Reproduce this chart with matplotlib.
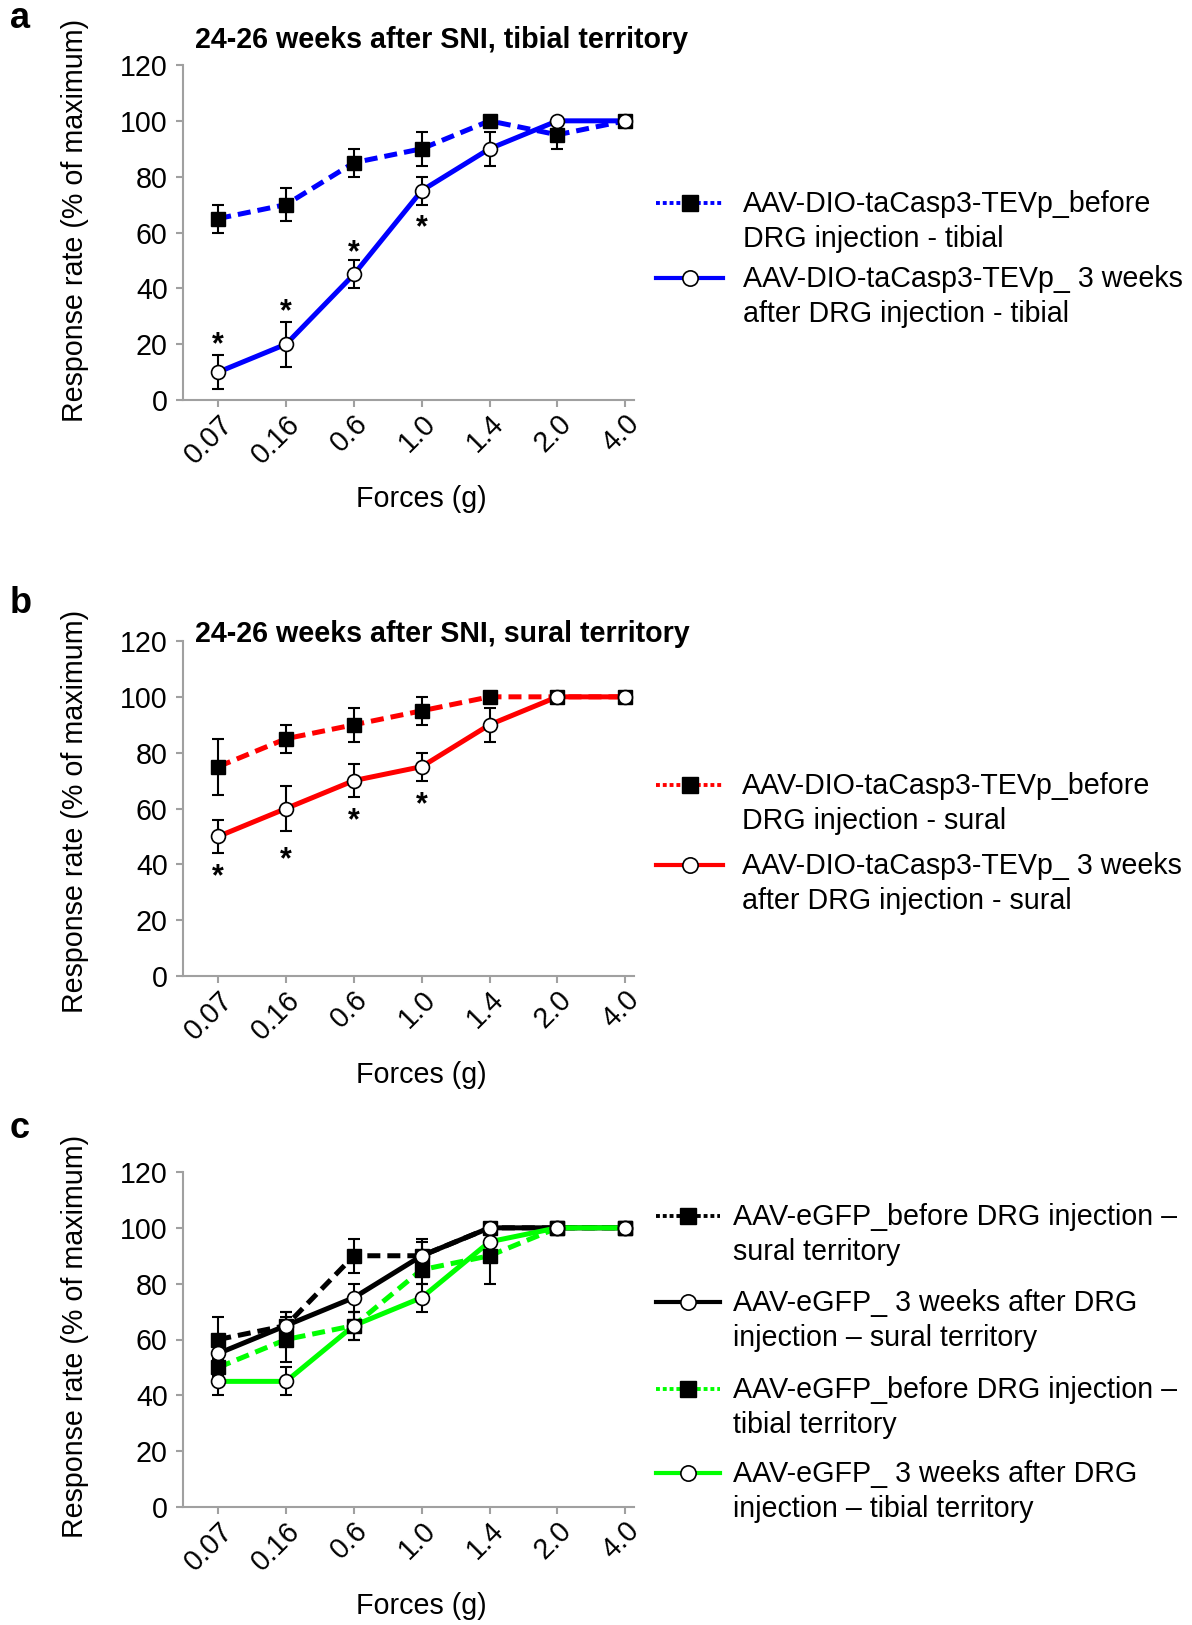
import matplotlib.pyplot as plt
import numpy as np
from matplotlib.lines import Line2D

plt.rcParams['font.family'] = ['Liberation Sans', 'DejaVu Sans']
FS = 20.6
plt.rcParams['font.size'] = FS

# data
forces = ['0.07', '0.16', '0.6', '1.0', '1.4', '2.0', '4.0']

a_before = [65, 70, 85, 90, 100, 95, 100]
a_before_err = [5, 6, 5, 6, 0, 5, 0]
a_after = [10, 20, 45, 75, 90, 100, 100]
a_after_err = [6, 8, 5, 5, 6, 0, 0]
a_star_x = [0, 1, 2, 3]
a_star_y = [22, 34, 55, 64]

b_before = [75, 85, 90, 95, 100, 100, 100]
b_before_err = [10, 5, 6, 5, 0, 0, 0]
b_after = [50, 60, 70, 75, 90, 100, 100]
b_after_err = [6, 8, 6, 5, 6, 0, 0]
b_star_x = [0, 1, 2, 3]
b_star_y = [38, 44, 58, 63.6]

c_sural_before = [60, 65, 90, 90, 100, 100, 100]
c_sural_before_err = [8, 5, 6, 6, 0, 0, 0]
c_sural_after = [55, 65, 75, 90, 100, 100, 100]
c_sural_after_err = [3, 5, 5, 5, 0, 0, 0]
c_tibial_before = [50, 60, 65, 85, 90, 100, 100]
c_tibial_before_err = [3, 8, 5, 5, 10, 0, 0]
c_tibial_after = [45, 45, 65, 75, 95, 100, 100]
c_tibial_after_err = [5, 5, 5, 5, 0, 0, 0]

W, H = 1192, 1625
fig = plt.figure(figsize=(W / 100, H / 100), dpi=100)
x = np.arange(len(forces))
gray = '#a0a0a0'


def px_axes(left, top, right, bottom):
    return fig.add_axes([left / W, 1 - bottom / H, (right - left) / W, (bottom - top) / H])


def style(ax, ylab_y):
    ax.set_xlim(-0.52, 6.13)
    ax.set_ylim(0, 120)
    ax.set_yticks(range(0, 121, 20))
    ax.set_xticks(x)
    ax.set_xticklabels(forces, rotation=45, ha='right', va='top', rotation_mode='anchor')
    for s in ['top', 'right']:
        ax.spines[s].set_visible(False)
    for s in ['left', 'bottom']:
        ax.spines[s].set_color(gray)
        ax.spines[s].set_linewidth(1.5)
    ax.tick_params(direction='out', color=gray, width=1.5, length=5, labelsize=FS)
    ax.tick_params(axis='x', pad=2)
    ax.tick_params(axis='y', pad=6)
    ax.set_ylabel('Response rate (% of maximum)', fontsize=FS)
    ax.yaxis.set_label_coords(-0.208, ylab_y)
    ax.set_xlabel('Forces (g)', fontsize=FS)
    ax.xaxis.set_label_coords(0.529, -0.255)


def series(ax, y, err, color, before):
    ls = (0, (2.6, 1.4)) if before else '-'
    ax.plot(x, y, color=color, lw=3.6, ls=ls, zorder=2)
    err = np.array(err)
    m = err > 0
    ax.errorbar(x[m], np.array(y)[m], yerr=err[m], fmt='none', ecolor='k',
                elinewidth=1.5, capsize=4.5, capthick=1.5, zorder=3)
    if before:
        ax.plot(x, y, ls='none', marker='s', ms=10, mfc='k', mec='k', zorder=4)
    else:
        ax.plot(x, y, ls='none', marker='o', ms=10, mfc='white', mec='k', mew=1.2, zorder=4)


def stars(ax, sx, sy):
    for i, v in zip(sx, sy):
        ax.annotate('*', (i, v), xytext=(0, -5), textcoords='offset points',
                    ha='center', va='center', fontsize=22, weight='bold')


def legend_entry(y_px, x0, x1, xt, color, before, text):
    yf = 1 - y_px / H
    if before:
        fig.add_artist(Line2D([x0 / W, x1 / W], [yf, yf], color=color, lw=2.8,
                              ls=(0, (1, 0.75))))
        fig.add_artist(Line2D([(x0 + x1) / 2 / W], [yf], marker='s', ms=11, mfc='k', mec='k'))
    else:
        fig.add_artist(Line2D([x0 / W, x1 / W], [yf, yf], color=color, lw=3))
        fig.add_artist(Line2D([(x0 + x1) / 2 / W], [yf], marker='o', ms=11, mfc='white',
                              mec='k', mew=1.2))
    # baseline of the last line of the two-line label
    fig.text(xt / W, 1 - (y_px + 10 + 34) / H, text, va='baseline', ha='left',
             fontsize=FS, linespacing=1.33)


# panel a
ax1 = px_axes(183, 65, 634, 400)
series(ax1, a_before, a_before_err, '#0000ff', True)
series(ax1, a_after, a_after_err, '#0000ff', False)
stars(ax1, a_star_x, a_star_y)
style(ax1, 0.537)
fig.text(195 / W, 1 - 48 / H, '24-26 weeks after SNI, tibial territory',
         weight='bold', fontsize=FS, va='baseline')
legend_entry(203, 656, 723, 743, '#0000ff', True,
             'AAV-DIO-taCasp3-TEVp_before\nDRG injection - tibial')
legend_entry(278, 656, 723, 743, '#0000ff', False,
             'AAV-DIO-taCasp3-TEVp_ 3 weeks\nafter DRG injection - tibial')

# panel b
ax2 = px_axes(183, 641, 634, 976)
series(ax2, b_before, b_before_err, '#ff0000', True)
series(ax2, b_after, b_after_err, '#ff0000', False)
stars(ax2, b_star_x, b_star_y)
style(ax2, 0.49)
fig.text(195 / W, 1 - 642 / H, '24-26 weeks after SNI, sural territory',
         weight='bold', fontsize=FS, va='baseline')
legend_entry(785, 656, 723, 742, '#ff0000', True,
             'AAV-DIO-taCasp3-TEVp_before\nDRG injection - sural')
legend_entry(865, 656, 723, 742, '#ff0000', False,
             'AAV-DIO-taCasp3-TEVp_ 3 weeks\nafter DRG injection - sural')

# panel c
ax3 = px_axes(183, 1172, 634, 1507)
series(ax3, c_sural_before, c_sural_before_err, 'k', True)
series(ax3, c_tibial_before, c_tibial_before_err, '#00ff00', True)
series(ax3, c_sural_after, c_sural_after_err, 'k', False)
series(ax3, c_tibial_after, c_tibial_after_err, '#00ff00', False)
style(ax3, 0.51)
legend_entry(1216, 656, 720, 733, 'k', True,
             'AAV-eGFP_before DRG injection \u2013\nsural territory')
legend_entry(1302, 656, 720, 733, 'k', False,
             'AAV-eGFP_ 3 weeks after DRG\ninjection \u2013 sural territory')
legend_entry(1389, 656, 720, 733, '#00ff00', True,
             'AAV-eGFP_before DRG injection \u2013\ntibial territory')
legend_entry(1473, 656, 720, 733, '#00ff00', False,
             'AAV-eGFP_ 3 weeks after DRG\ninjection \u2013 tibial territory')

for lab, yb in zip(['a', 'b', 'c'], [28, 613, 1138]):
    fig.text(10 / W, 1 - yb / H, lab, weight='bold', fontsize=26, va='baseline')

fig.savefig('out.png', dpi=100)
